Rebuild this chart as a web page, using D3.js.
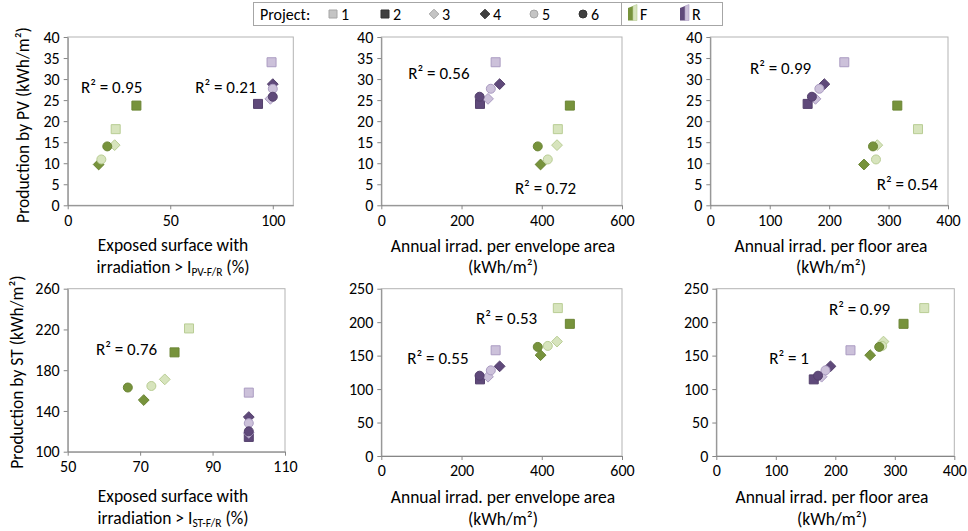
<!DOCTYPE html>
<html>
<head>
<meta charset="utf-8">
<script src="https://cdn.jsdelivr.net/npm/d3@7"></script>
<style>
  html, body { margin: 0; padding: 0; background: #fff; }
  svg { display: block; font-family: Carlito, Lato, "Open Sans", sans-serif; }
</style>
</head>
<body>
<svg id="chart" width="968" height="531"></svg>
<script>
// Projects 1..6; odd projects drawn with light fill, even with dark fill
const projects = ["1", "2", "3", "4", "5", "6"];
const projectShapes = ["square", "square", "diamond", "diamond", "circle", "circle"];
const projectTones = ["light", "dark", "light", "dark", "light", "dark"];

// Façade (F) and roof (R) values per project
const exposedPV_F = [23.4, 33.5, 22.9, 15.1, 16.4, 19.3];
const exposedPV_R = [99.4, 92.8, 98.8, 100, 100, 100];
const exposedST_F = [83.5, 79.5, 76.8, 71.0, 73.1, 66.6];
const exposedST_R = [100, 100, 100, 100, 100, 100];
const envIrr_F = [440, 470, 438, 397, 415, 390];
const envIrr_R = [285, 246, 266, 295, 273, 245];
const floorIrr_F = [349.5, 314.7, 281, 258.6, 278.8, 273.8];
const floorIrr_R = [225.5, 163.8, 177, 191.9, 183.5, 171];
const prodPV_F = [18.1, 23.7, 14.3, 9.7, 10.9, 14.0];
const prodPV_R = [34.0, 24.1, 25.3, 28.8, 27.7, 25.8];
const prodST_F = [221, 197.5, 171, 150.7, 164.5, 163];
const prodST_R = [158, 114.5, 118.5, 134, 128, 120];

// Coefficients of determination per panel: [F, R]
const r2PV_exposed = ["0.95", "0.21"];
const r2PV_env = ["0.72", "0.56"];
const r2PV_floor = ["0.54", "0.99"];
const r2ST_exposed = ["0.76", null];
const r2ST_env = ["0.53", "0.55"];
const r2ST_floor = ["0.99", "1"];

// Axis ticks
const ticksPct = [0, 50, 100];
const ticksPctST = [50, 70, 90, 110];
const ticksEnv = [0, 200, 400, 600];
const ticksFloor = [0, 100, 200, 300, 400];
const ticksPV = [0, 5, 10, 15, 20, 25, 30, 35, 40];
const ticksST = [100, 140, 180, 220, 260];
const ticksST2 = [0, 50, 100, 150, 200, 250];

const colors = {
  F: { dark: "#77933c", darkStroke: "#6b8535", light: "#d7e4bd", lightStroke: "#b9cd94" },
  R: { dark: "#5f497a", darkStroke: "#54406c", light: "#ccc1da", lightStroke: "#ab9cc2" }
};

const FONT_TICK = 16, FONT_TITLE = 17.5, FONT_R2 = 17, FONT_LEG = 16;

const svg = d3.select("#chart");

// Panel layout
const panels = [
  { box: [67.7, 293.3, 37, 205.3], xd: [0, 110], yd: [0, 40], xt: ticksPct, yt: ticksPV,
    xF: exposedPV_F, xR: exposedPV_R, yF: prodPV_F, yR: prodPV_R, r2: r2PV_exposed,
    r2pos: [[6.5, 28.1], [62.2, 28.1]], xlabel: "pct", sub: "PV-F/R", labX: 173, labDy: [40, 62] },
  { box: [381.3, 622, 37, 205.3], xd: [0, 600], yd: [0, 40], xt: ticksEnv, yt: ticksPV,
    xF: envIrr_F, xR: envIrr_R, yF: prodPV_F, yR: prodPV_R, r2: r2PV_env,
    r2pos: [[333, 4.0], [67.3, 31.5]], xlabel: "Annual irrad. per envelope area", labX: 503, labDy: [41, 62] },
  { box: [710.3, 948, 37, 205.3], xd: [0, 400], yd: [0, 40], xt: ticksFloor, yt: ticksPV,
    xF: floorIrr_F, xR: floorIrr_R, yF: prodPV_F, yR: prodPV_R, r2: r2PV_floor,
    r2pos: [[280, 5.0], [66.8, 32.6]], xlabel: "Annual irrad. per floor area", labX: 831, labDy: [41, 62] },
  { box: [67.7, 285, 288.7, 451.7], xd: [50, 110], yd: [100, 260], xt: ticksPctST, yt: ticksST,
    xF: exposedST_F, xR: exposedST_R, yF: prodST_F, yR: prodST_R, r2: r2ST_exposed,
    r2pos: [[57.8, 200.8], null], xlabel: "pct", sub: "ST-F/R", labX: 173, labDy: [44, 66] },
  { box: [381.3, 622, 288.7, 456], xd: [0, 600], yd: [0, 250], xt: ticksEnv, yt: ticksST2,
    xF: envIrr_F, xR: envIrr_R, yF: prodST_F, yR: prodST_R, r2: r2ST_env,
    r2pos: [[236, 205.8], [64.8, 146]], xlabel: "Annual irrad. per envelope area", labX: 503, labDy: [40.5, 62.5] },
  { box: [716.3, 954.3, 288.7, 456], xd: [0, 400], yd: [0, 250], xt: ticksFloor, yt: ticksST2,
    xF: floorIrr_F, xR: floorIrr_R, yF: prodST_F, yR: prodST_R, r2: r2ST_floor,
    r2pos: [[189.4, 219.2], [89, 146.9]], xlabel: "Annual irrad. per floor area", labX: 832, labDy: [40.5, 62.5] }
];

function markerPath(shape, size) {
  const h = size / 2;
  if (shape === "square") return `M${-h},${-h}H${h}V${h}H${-h}Z`;
  const d = h * 1.2;
  return `M0,${-d}L${d},0L0,${d}L${-d},0Z`;
}

function drawMarker(g, shape, x, y, fill, stroke, size) {
  if (shape === "circle") {
    g.append("circle").attr("cx", x).attr("cy", y).attr("r", size / 2)
      .attr("fill", fill).attr("stroke", stroke).attr("stroke-width", 1);
  } else {
    g.append("path").attr("d", markerPath(shape, size))
      .attr("transform", `translate(${x},${y})`)
      .attr("fill", fill).attr("stroke", stroke).attr("stroke-width", 1);
  }
}

panels.forEach(p => {
  const [x0, x1, y0, y1] = p.box;
  const x = d3.scaleLinear().domain(p.xd).range([x0, x1]);
  const y = d3.scaleLinear().domain(p.yd).range([y1, y0]);
  const g = svg.append("g");

  // plot frame
  g.append("rect").attr("x", x0).attr("y", y0).attr("width", x1 - x0).attr("height", y1 - y0)
    .attr("fill", "none").attr("stroke", "#b3b3b3").attr("stroke-width", 1);

  const xa = g.append("g").attr("transform", `translate(0,${y1})`)
    .call(d3.axisBottom(x).tickValues(p.xt).tickSizeInner(4).tickSizeOuter(0).tickPadding(5));
  const ya = g.append("g").attr("transform", `translate(${x0},0)`)
    .call(d3.axisLeft(y).tickValues(p.yt).tickSizeInner(4).tickSizeOuter(0).tickPadding(4));
  [xa, ya].forEach(a => {
    a.select(".domain").attr("stroke", "#868686");
    a.selectAll(".tick line").attr("stroke", "#868686");
    a.selectAll(".tick text").attr("fill", "#000").attr("font-size", FONT_TICK)
      .attr("font-family", "Carlito, Lato, sans-serif");
  });

  // points: façade then roof, projects in order
  const pts = g.append("g");
  [["F", p.xF, p.yF], ["R", p.xR, p.yR]].forEach(([key, xs, ys]) => {
    projects.forEach((pr, i) => {
      const tone = projectTones[i];
      const c = colors[key];
      const fill = tone === "dark" ? c.dark : c.light;
      const stroke = tone === "dark" ? c.darkStroke : c.lightStroke;
      drawMarker(pts, projectShapes[i], x(xs[i]), y(ys[i]), fill, stroke, 9);
    });
  });

  // R² annotations
  p.r2.forEach((v, k) => {
    if (v === null || !p.r2pos[k]) return;
    g.append("text").attr("x", x(p.r2pos[k][0])).attr("y", y(p.r2pos[k][1]))
      .attr("dy", "0.35em").attr("font-size", FONT_R2).attr("fill", "#000")
      .text(`R² = ${v}`);
  });

  // x-axis title (two lines), positioned by visual centre of each line
  const base = FONT_TITLE * 0.35;
  const line1Y = y1 + p.labDy[0] + base, line2Y = y1 + p.labDy[1] + base;
  const t1 = g.append("text").attr("text-anchor", "middle").attr("font-size", FONT_TITLE)
    .attr("fill", "#000").attr("x", p.labX).attr("y", line1Y);
  const t2 = g.append("text").attr("text-anchor", "middle").attr("font-size", FONT_TITLE)
    .attr("fill", "#000").attr("x", p.labX).attr("y", line2Y);
  if (p.xlabel === "pct") {
    t1.text("Exposed surface with");
    t2.append("tspan").text("irradiation > I");
    t2.append("tspan").attr("font-size", 11.5).attr("dy", 3).text(p.sub);
    t2.append("tspan").attr("dy", -3).text(" (%)");
  } else {
    t1.text(p.xlabel);
    t2.text("(kWh/m²)");
  }
});

// y-axis titles
svg.append("text").attr("transform", "translate(29,125) rotate(-90)")
  .attr("text-anchor", "middle").attr("font-size", FONT_TITLE).attr("fill", "#000")
  .text("Production by PV (kWh/m²)");
svg.append("text").attr("transform", "translate(23,372) rotate(-90)")
  .attr("text-anchor", "middle").attr("font-size", FONT_TITLE).attr("fill", "#000")
  .text("Production by ST (kWh/m²)");

// Legend
const leg = svg.append("g");
leg.append("rect").attr("x", 253.5).attr("y", 2.5).attr("width", 469).attr("height", 23)
  .attr("fill", "#fff").attr("stroke", "#a6a6a6");
leg.append("line").attr("x1", 621.5).attr("x2", 621.5).attr("y1", 2.5).attr("y2", 25.5)
  .attr("stroke", "#a6a6a6");
leg.append("text").attr("x", 260).attr("y", 19.5).attr("font-size", FONT_LEG).text("Project:");
const legX = [333, 385, 434, 485, 534, 583];
projects.forEach((pr, i) => {
  const dark = projectTones[i] === "dark";
  drawMarker(leg, projectShapes[i], legX[i], 14, dark ? "#404040" : "#c4c4c4",
    dark ? "#333" : "#a6a6a6", 8);
  leg.append("text").attr("x", legX[i] + 8).attr("y", 19.5).attr("font-size", FONT_LEG).text(pr);
});
const legendFR = [["F", 628], ["R", 680]];
legendFR.forEach(([key, lx]) => {
  const c = colors[key];
  leg.append("path").attr("d", `M${lx},20.5L${lx},8L${lx + 5},6L${lx + 5},20.5Z`).attr("fill", c.dark);
  leg.append("path").attr("d", `M${lx + 5},6L${lx + 9},4.5L${lx + 9},20.5L${lx + 5},20.5Z`)
    .attr("fill", c.light).attr("stroke", c.lightStroke).attr("stroke-width", 0.6);
  leg.append("text").attr("x", lx + 12).attr("y", 19.5).attr("font-size", FONT_LEG).text(key);
});
</script>
</body>
</html>
